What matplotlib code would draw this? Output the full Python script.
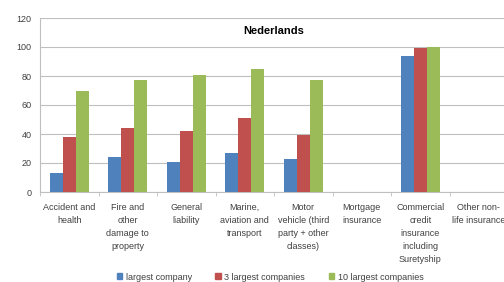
import matplotlib
matplotlib.use("Agg")
import matplotlib.pyplot as plt
import numpy as np
from matplotlib.patches import Patch

categories = ["Accident and\nhealth", "Fire and\nother\ndamage to\nproperty", "General\nliability",
              "Marine,\naviation and\ntransport", "Motor\nvehicle (third\nparty + other\nclasses)",
              "Mortgage\ninsurance", "Commercial\ncredit\ninsurance\nincluding\nSuretyship",
              "Other non-\nlife insurance"]
series_names = ["largest company", "3 largest companies", "10 largest companies"]
largest = [13, 24, 21, 27, 23, 0, 94, 0]
largest3 = [38, 44, 42, 51, 39, 0, 99, 0]
largest10 = [70, 77, 81, 85, 77, 0, 100, 0]
colors = ["#4F81BD", "#C0504D", "#9BBB59"]
yticks = [0, 20, 40, 60, 80, 100, 120]

plt.rcParams['font.family'] = ['Liberation Sans', 'DejaVu Sans']
W, H = 504, 282
fig = plt.figure(figsize=(W/100, H/100), dpi=100)
left, right, top, bottom = 40, 508, 18, 192
ax = fig.add_axes([left/W, 1-bottom/H, (right-left)/W, (bottom-top)/H])

x = np.arange(len(categories))
bw = 0.22
for i, (vals, c) in enumerate(zip([largest, largest3, largest10], colors)):
    ax.bar(x + (i-1)*bw, vals, width=bw, color=c, zorder=3)

ax.set_xlim(-0.5, len(categories)-0.5)
ax.set_ylim(0, 120)
ax.set_yticks(yticks)
ax.set_yticklabels([str(v) for v in yticks], fontsize=6.5, color="#404040")
ax.yaxis.grid(True, color="#BFBFBF", linewidth=0.8, zorder=0)
ax.tick_params(axis='y', length=0, pad=6)
ax.set_xticks(x)
ax.set_xticklabels(categories, fontsize=6.5, color="#404040", linespacing=1.55, va='top')
ax.tick_params(axis='x', length=0, pad=8)
ax.set_xticks(np.arange(len(categories)+1)-0.5, minor=True)
ax.tick_params(axis='x', which='minor', length=3, color="#BFBFBF", direction='out')
for s in ['top', 'right']:
    ax.spines[s].set_visible(False)
ax.spines['left'].set_color("#BFBFBF")
ax.spines['bottom'].set_color("#BFBFBF")
ax.text(3.5, 111, "Nederlands", ha='center', va='center', fontsize=8, fontweight='bold', color="#000000")

handles = [Patch(color=c) for c in colors]
fig.legend(handles, series_names, loc='center', bbox_to_anchor=(270/W, 5/H), ncol=3,
           frameon=False, fontsize=6.5, handlelength=0.6, handleheight=0.6,
           columnspacing=2.6, handletextpad=0.4, labelcolor="#404040")
fig.savefig("out.png", dpi=100, facecolor="white")
